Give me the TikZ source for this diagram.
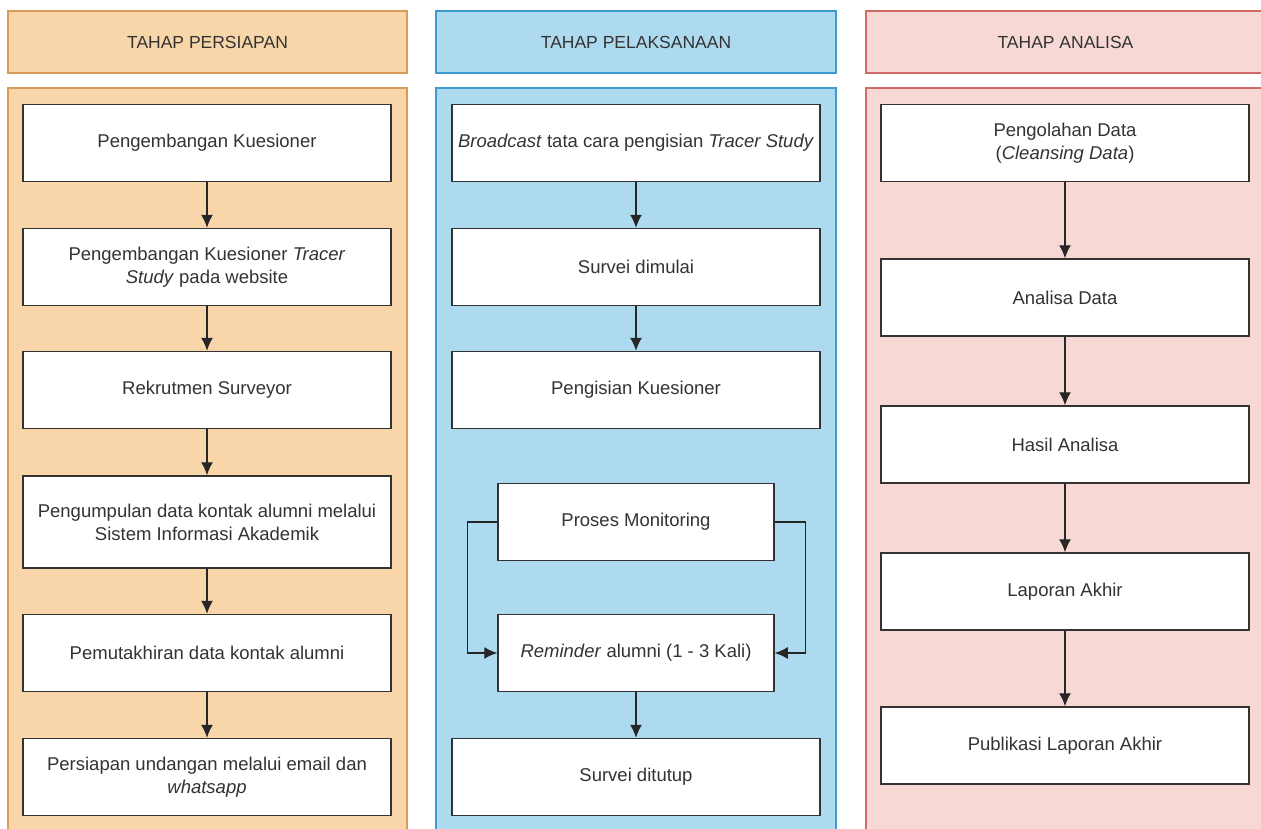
\documentclass[tikz,border=0pt]{standalone}
\usepackage{fontspec}
\setmainfont{Liberation Sans}
\usetikzlibrary{arrows.meta,positioning}
\definecolor{prepfill}{HTML}{F8D6AA}
\definecolor{prepline}{HTML}{D99C55}
\definecolor{execfill}{HTML}{ADDAEE}
\definecolor{execline}{HTML}{3E9BD0}
\definecolor{anafill}{HTML}{F8D8D4}
\definecolor{analine}{HTML}{CF6B64}
\definecolor{txt}{HTML}{333333}
\tikzset
{
    phasehead/.style = {rectangle, draw, line width=1.3pt, minimum width=399pt, minimum height=62pt, align=center, text=txt, font=\fontsize{17.5}{21}\selectfont},
    phasebody/.style = {rectangle, draw, line width=1.3pt},
    stepbox/.style   = {rectangle, draw=black!80, line width=1.5pt, fill=white, minimum width=368pt, minimum height=77pt, align=center, text=txt, font=\fontsize{18.5}{23}\selectfont},
    smallbox/.style  = {stepbox, minimum width=276pt},
    arrow/.style     = {line width=1.4pt, draw=black!85, -{Latex[length=13pt,width=12pt]}}
}

\begin{document}
\begin{tikzpicture}[x=1pt, y=-1pt]
\clip (0,0) rectangle (1261,828);
\fill[white] (0,0) rectangle (1261,828);
% panels
\draw[phasebody, fill=prepfill, draw=prepline] (8,88) rectangle (407,850);
\draw[phasebody, fill=execfill, draw=execline] (436,88) rectangle (836,850);
\draw[phasebody, fill=anafill, draw=analine] (866,88) rectangle (1265,850);
\node(hprep) [phasehead, fill=prepfill, draw=prepline] at (207.5,42) {TAHAP PERSIAPAN};
\node(hexec) [phasehead, fill=execfill, draw=execline, minimum width=400pt] at (636,42) {TAHAP PELAKSANAAN};
\node(hana) [phasehead, fill=anafill, draw=analine] at (1065.5,42) {TAHAP ANALISA};
% tahap persiapan
\node(p1) [stepbox] at (207,143) {Pengembangan Kuesioner};
\node(p2) [stepbox] at (207,267) {Pengembangan Kuesioner \textit{Tracer}\\\textit{Study} pada website};
\node(p3) [stepbox] at (207,390) {Rekrutmen Surveyor};
\node(p4) [stepbox, minimum height=92pt] at (207,522) {Pengumpulan data kontak alumni melalui\\Sistem Informasi Akademik};
\node(p5) [stepbox] at (207,653) {Pemutakhiran data kontak alumni};
\node(p6) [stepbox] at (207,777) {Persiapan undangan melalui email dan\\\textit{whatsapp}};
\draw[arrow] (p1) -- (p2);
\draw[arrow] (p2) -- (p3);
\draw[arrow] (p3) -- (p4);
\draw[arrow] (p4) -- (p5);
\draw[arrow] (p5) -- (p6);
% tahap pelaksanaan
\node(e1) [stepbox] at (636,143) {\textit{Broadcast} tata cara pengisian \textit{Tracer Study}};
\node(e2) [stepbox] at (636,267) {Survei dimulai};
\node(e3) [stepbox] at (636,390) {Pengisian Kuesioner};
\node(mon) [smallbox] at (636,522) {Proses Monitoring};
\node(rem) [smallbox] at (636,653) {\textit{Reminder} alumni (1 - 3 Kali)};
\node(e4) [stepbox] at (636,777) {Survei ditutup};
\draw[arrow] (e1) -- (e2);
\draw[arrow] (e2) -- (e3);
\draw[arrow] (mon.west) -- ++(-30,0) |- (rem.west);
\draw[arrow] (mon.east) -- ++(31,0) |- (rem.east);
\draw[arrow] (rem) -- (e4);
% tahap analisa
\node(a1) [stepbox] at (1065,143) {Pengolahan Data\\(\textit{Cleansing Data})};
\node(a2) [stepbox] at (1065,297.5) {Analisa Data};
\node(a3) [stepbox] at (1065,444.5) {Hasil Analisa};
\node(a4) [stepbox] at (1065,591.5) {Laporan Akhir};
\node(a5) [stepbox] at (1065,745.5) {Publikasi Laporan Akhir};
\draw[arrow] (a1) -- (a2);
\draw[arrow] (a2) -- (a3);
\draw[arrow] (a3) -- (a4);
\draw[arrow] (a4) -- (a5);
\end{tikzpicture}
\end{document}
